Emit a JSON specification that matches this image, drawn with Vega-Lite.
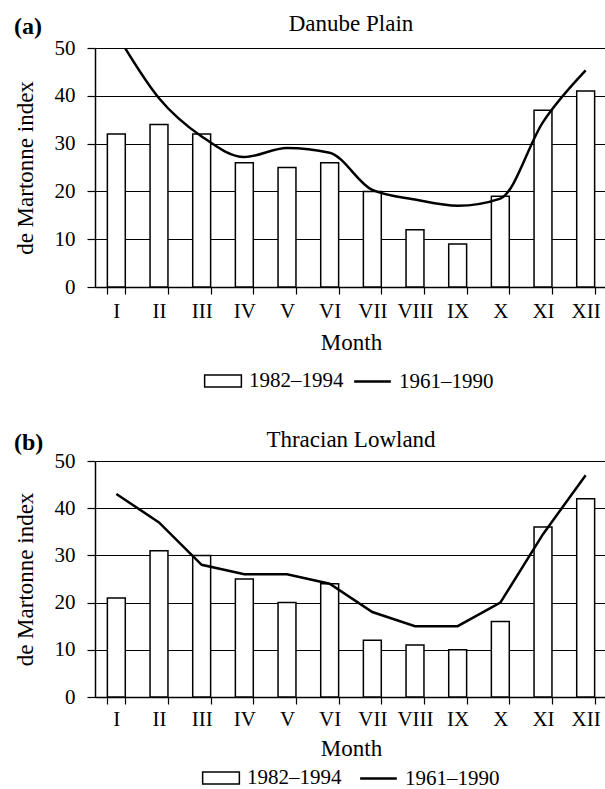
{
  "$schema": "https://vega.github.io/schema/vega-lite/v6.json",
  "padding": {"left": 14, "top": 13, "right": 0, "bottom": 0},
  "autosize": {"type": "pad"},
  "config": {
    "font": "Liberation Serif",
    "view": {"stroke": null},
    "axis": {
      "labelFont": "Liberation Serif", "titleFont": "Liberation Serif",
      "labelColor": "black", "titleColor": "black",
      "domainColor": "black", "tickColor": "black", "gridColor": "black",
      "labelFontSize": 21, "titleFontSize": 23, "titleFontWeight": "normal",
      "domainWidth": 1.5, "tickWidth": 1.2, "gridWidth": 1.2, "gridOpacity": 1
    },
    "title": {"font": "Liberation Serif", "color": "black", "fontWeight": "normal", "fontSize": 23},
    "legend": {"labelFont": "Liberation Serif", "labelColor": "black", "labelFontSize": 21, "padding": 0, "orient": "none", "title": null, "symbolSize": 600, "labelOffset": 13, "symbolStrokeColor": "black", "symbolOpacity": 1}
  },
  "spacing": 37,
  "resolve": {"scale": {"stroke": "independent"}, "legend": {"stroke": "independent"}},
  "vconcat": [
    {
      "title": {"text": "(a)", "anchor": "start", "frame": "bounds", "fontWeight": "bold", "fontSize": 24, "dy": 30},
      "resolve": {"scale": {"stroke": "independent"}, "legend": {"stroke": "independent"}},
      "vconcat": [
        {
          "width": 512, "height": 239,
          "title": {"text": "Danube Plain", "anchor": "middle", "frame": "group", "offset": 1},
          "data": {"values": [
            {"month": "I", "p1982": 32, "p1961": 53},
            {"month": "II", "p1982": 34, "p1961": 39.5},
            {"month": "III", "p1982": 32, "p1961": 31.5},
            {"month": "IV", "p1982": 26, "p1961": 27.2},
            {"month": "V", "p1982": 25, "p1961": 29.1},
            {"month": "VI", "p1982": 26, "p1961": 28.1},
            {"month": "VII", "p1982": 20, "p1961": 20.3},
            {"month": "VIII", "p1982": 12, "p1961": 18.3},
            {"month": "IX", "p1982": 9, "p1961": 17},
            {"month": "X", "p1982": 19, "p1961": 18.5},
            {"month": "XI", "p1982": 37, "p1961": 34.5},
            {"month": "XII", "p1982": 41, "p1961": 45.3}
          ]},
          "resolve": {"scale": {"stroke": "independent"}, "legend": {"stroke": "independent"}},
          "encoding": {
            "x": {
              "field": "month", "type": "ordinal",
              "sort": ["I","II","III","IV","V","VI","VII","VIII","IX","X","XI","XII"],
              "scale": {"paddingInner": 0.58, "paddingOuter": 0.29},
              "axis": {"title": "Month", "labelAngle": 0, "tickBand": "extent", "tickSize": 7, "labelPadding": 6, "titlePadding": 10, "grid": false}
            }
          },
          "layer": [
            {
              "mark": {"type": "bar", "fill": "white", "strokeWidth": 1.5},
              "encoding": {
                "y": {
                  "field": "p1982", "type": "quantitative",
                  "scale": {"domain": [0, 50]},
                  "axis": {"title": "de Martonne index", "values": [0,10,20,30,40,50], "grid": true, "tickSize": 8, "labelPadding": 12, "titlePadding": 17}
                },
                "stroke": {
                  "datum": "1982–1994", "type": "nominal",
                  "scale": {"range": ["black"]},
                  "legend": {"legendX": 115, "legendY": 320, "symbolType": "M-1.5,-0.5H1.5V0.5H-1.5Z", "symbolFillColor": "white", "symbolStrokeWidth": 1.5}
                }
              }
            },
            {
              "mark": {"type": "line", "interpolate": "monotone", "strokeWidth": 2.5, "clip": true},
              "encoding": {
                "y": {"field": "p1961", "type": "quantitative"},
                "stroke": {
                  "datum": "1961–1990", "type": "nominal",
                  "scale": {"range": ["black"]},
                  "legend": {"legendX": 264, "legendY": 320, "symbolType": "M-1.5,0H1.5", "symbolStrokeWidth": 2.5}
                }
              }
            }
          ]
        }
      ]
    },
    {
      "title": {"text": "(b)", "anchor": "start", "frame": "bounds", "fontWeight": "bold", "fontSize": 24, "dy": 30},
      "resolve": {"scale": {"stroke": "independent"}, "legend": {"stroke": "independent"}},
      "vconcat": [
        {
          "width": 512, "height": 236,
          "title": {"text": "Thracian Lowland", "anchor": "middle", "frame": "group", "offset": -2},
          "data": {"values": [
            {"month": "I", "p1982": 21, "p1961": 43},
            {"month": "II", "p1982": 31, "p1961": 37},
            {"month": "III", "p1982": 30, "p1961": 28},
            {"month": "IV", "p1982": 25, "p1961": 26},
            {"month": "V", "p1982": 20, "p1961": 26},
            {"month": "VI", "p1982": 24, "p1961": 24},
            {"month": "VII", "p1982": 12, "p1961": 18},
            {"month": "VIII", "p1982": 11, "p1961": 15},
            {"month": "IX", "p1982": 10, "p1961": 15},
            {"month": "X", "p1982": 16, "p1961": 20},
            {"month": "XI", "p1982": 36, "p1961": 34.5},
            {"month": "XII", "p1982": 42, "p1961": 47}
          ]},
          "resolve": {"scale": {"stroke": "independent"}, "legend": {"stroke": "independent"}},
          "encoding": {
            "x": {
              "field": "month", "type": "ordinal",
              "sort": ["I","II","III","IV","V","VI","VII","VIII","IX","X","XI","XII"],
              "scale": {"paddingInner": 0.58, "paddingOuter": 0.29},
              "axis": {"title": "Month", "labelAngle": 0, "tickBand": "extent", "tickSize": 7, "labelPadding": 4, "titlePadding": 8, "grid": false}
            }
          },
          "layer": [
            {
              "mark": {"type": "bar", "fill": "white", "strokeWidth": 1.5},
              "encoding": {
                "y": {
                  "field": "p1982", "type": "quantitative",
                  "scale": {"domain": [0, 50]},
                  "axis": {"title": "de Martonne index", "values": [0,10,20,30,40,50], "grid": true, "tickSize": 8, "labelPadding": 12, "titlePadding": 17}
                },
                "stroke": {
                  "datum": "1982–1994", "type": "nominal",
                  "scale": {"range": ["black"]},
                  "legend": {"legendX": 113, "legendY": 304, "symbolType": "M-1.5,-0.5H1.5V0.5H-1.5Z", "symbolFillColor": "white", "symbolStrokeWidth": 1.5}
                }
              }
            },
            {
              "mark": {"type": "line", "interpolate": "linear", "strokeWidth": 2.5, "clip": true},
              "encoding": {
                "y": {"field": "p1961", "type": "quantitative"},
                "stroke": {
                  "datum": "1961–1990", "type": "nominal",
                  "scale": {"range": ["black"]},
                  "legend": {"legendX": 270, "legendY": 304, "symbolType": "M-1.5,0H1.5", "symbolStrokeWidth": 2.5}
                }
              }
            }
          ]
        }
      ]
    }
  ]
}
